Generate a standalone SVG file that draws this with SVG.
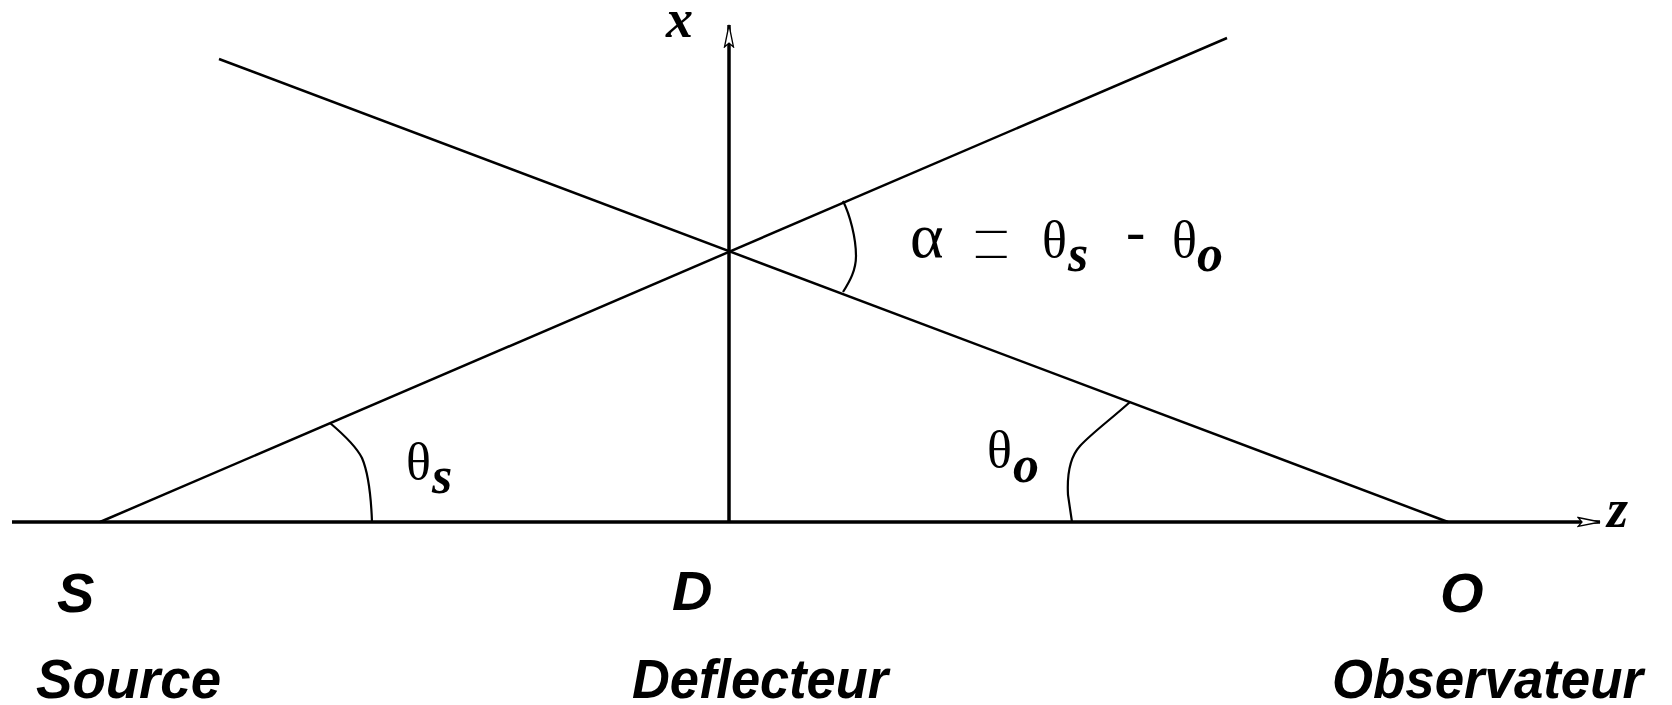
<svg xmlns="http://www.w3.org/2000/svg" width="1672" height="705" viewBox="0 0 1672 705">
<style>
.axis{stroke:#000;stroke-width:3.5;fill:none}
.ray{stroke:#000;stroke-width:2.5;fill:none}
.arc{stroke:#000;stroke-width:2.2;fill:none}
.lbl{font-family:"Liberation Sans",Arial,sans-serif;font-weight:bold;font-style:italic;font-size:56px;fill:#000}
.math{font-family:"Liberation Serif","Times New Roman",serif;font-size:52px;fill:#000}
.sub{font-family:"Liberation Serif","Times New Roman",serif;font-weight:bold;font-style:italic;font-size:52px;fill:#000}
.var{font-family:"Liberation Serif","Times New Roman",serif;font-weight:bold;font-style:italic;font-size:54px;fill:#000}
</style>
<defs>
<marker id="arr" viewBox="0 0 24 12" refX="23" refY="6" markerWidth="24" markerHeight="12" markerUnits="userSpaceOnUse" orient="auto">
<path d="M1,1.5 L23,6 L1,10.5 L5,6 Z" fill="#fff" stroke="#000" stroke-width="1.3"/>
</marker>
</defs>
<rect width="1672" height="705" fill="#fff"/>
<g id="axes">
<line class="axis" x1="12" y1="522" x2="1600" y2="522" marker-end="url(#arr)"/>
<line class="axis" x1="729" y1="522" x2="729" y2="25" marker-end="url(#arr)"/>
</g>
<g id="connectors">
<line class="ray" x1="100" y1="522" x2="1227" y2="38"/>
<line class="ray" x1="1448" y1="522" x2="219" y2="59"/>
</g>
<g id="arcs">
<path class="arc" d="M843,201 C850,215 856,238 856,256 C856,270 850,281 843,292"/>
<path class="arc" d="M330,423 C343,434 356,446 362,458 C368,472 371,495 372,522"/>
<path class="arc" d="M1130,402 C1110,420 1092,433 1080,446 C1069,458 1067,476 1068,495 L1072,522"/>
</g>
<g id="axis-labels">
<text class="var" x="666" y="37">x</text>
<text class="var" x="1607" y="527">z</text>
</g>
<g id="angle-labels">
<text class="math" x="406" y="479">θ</text>
<text class="sub" x="432" y="493">s</text>
<text class="math" x="987" y="467">θ</text>
<text class="sub" x="1013" y="482">o</text>
</g>
<g id="formula">
<text class="math" x="910" y="257" style="font-size:64px">α</text>
<text class="math" transform="translate(971,286) scale(1.38,2.4)" style="font-size:52px;stroke:#fff;stroke-width:1.75">=</text>
<text class="math" x="1042" y="257">θ</text>
<text class="sub" x="1068" y="271">s</text>
<text class="math" x="1126" y="250" style="font-size:58px">-</text>
<text class="math" x="1172" y="257">θ</text>
<text class="sub" x="1197" y="271">o</text>
</g>
<g id="node-S">
<text class="lbl" x="57" y="612">S</text>
<text class="lbl" x="36" y="698" textLength="185" lengthAdjust="spacingAndGlyphs">Source</text>
</g>
<g id="node-D">
<text class="lbl" x="672" y="610">D</text>
<text class="lbl" x="632" y="698" textLength="256" lengthAdjust="spacingAndGlyphs">Deflecteur</text>
</g>
<g id="node-O">
<text class="lbl" x="1440" y="612">O</text>
<text class="lbl" x="1332" y="698" textLength="311" lengthAdjust="spacingAndGlyphs">Observateur</text>
</g>
</svg>
